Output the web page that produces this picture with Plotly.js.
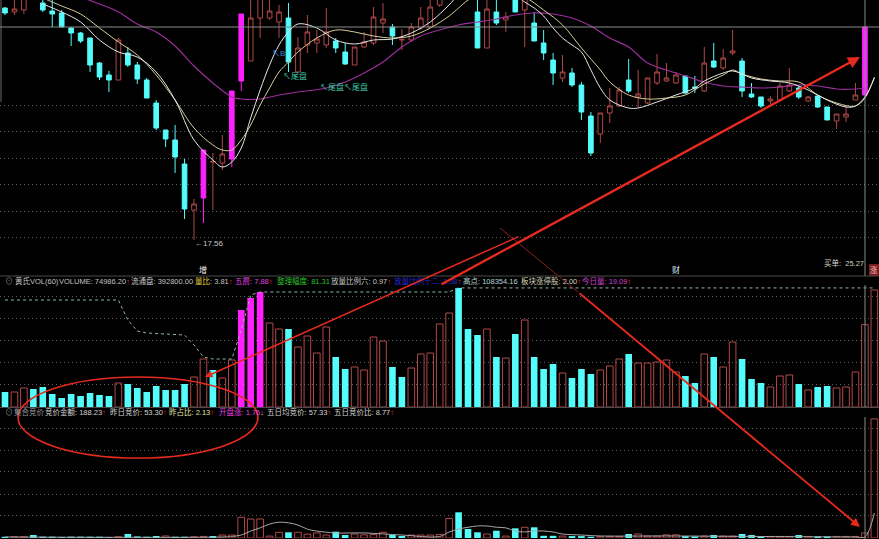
<!DOCTYPE html>
<html><head><meta charset="utf-8">
<script src="https://cdn.plot.ly/plotly-3.0.1.min.js"></script>
<style>html,body{margin:0;padding:0;background:#000;}#chart{width:879px;height:539px;}</style>
</head><body><div id="chart"></div>
<script>
// ---------------- DATA ----------------
const open = [26.84,26.68,26.76,27.64,27.04,26.72,26.64,26.04,25.84,25.64,
24.64,24.16,23.96,25.04,24.56,23.96,23.04,21.96,21.56,20.60,
18.76,19.24,20.68,20.64,20.80,23.92,24.72,26.44,26.44,26.28,
26.44,24.28,25.36,25.44,25.36,25.52,25.08,24.56,25.28,25.44,
26.24,26.08,25.56,25.56,26.04,26.08,26.96,27.36,27.96,27.88,
26.68,25.24,26.68,26.36,27.36,26.76,26.24,25.44,24.76,24.04,
24.24,23.76,22.52,21.80,22.64,22.92,23.96,23.28,23.04,23.84,
23.92,23.84,24.12,23.68,23.52,24.72,24.44,25.04,24.72,23.40,
23.28,23.12,23.16,23.52,23.64,23.12,23.32,22.88,22.32,22.48,
23.16,23.36];
const high = [26.88,27.16,27.56,27.96,27.24,27.16,26.76,26.08,25.88,25.64,
24.68,24.32,25.64,25.28,24.68,24.04,23.16,21.96,22.16,20.80,
19.20,21.16,21.04,21.76,23.52,26.60,27.36,27.56,27.36,26.96,
27.04,25.68,26.56,25.96,26.84,25.64,25.44,25.28,25.88,26.88,
27.04,26.20,26.00,26.24,26.88,27.16,27.56,27.96,28.16,28.04,
27.36,27.36,27.16,26.68,27.56,27.48,26.68,25.96,25.04,24.96,
24.44,23.88,22.68,22.64,23.64,23.68,24.80,24.36,24.04,25.00,
24.64,24.28,24.12,24.12,25.28,25.44,25.20,25.96,24.84,23.84,
23.28,23.32,23.84,24.44,23.72,23.32,23.32,22.88,22.60,22.92,
23.84,26.08];
const low = [26.56,26.56,26.60,27.24,26.68,26.08,26.08,25.32,25.44,24.28,
23.96,23.48,23.96,24.48,23.80,23.24,21.96,21.28,20.24,18.40,
17.56,18.24,18.76,20.36,20.48,23.52,24.72,25.64,26.36,25.64,
24.28,24.24,25.04,25.04,25.24,25.04,24.56,24.56,25.24,25.36,
25.84,25.36,25.16,25.48,25.96,26.04,26.88,27.28,27.48,27.32,
25.24,25.24,26.16,25.88,26.68,25.28,25.52,24.76,23.76,23.88,
23.68,22.36,20.92,21.44,22.24,22.88,23.44,22.88,23.00,23.76,
23.88,23.80,23.40,23.44,23.48,24.44,24.36,24.96,23.28,23.24,
22.84,23.00,23.16,23.48,23.20,23.08,22.84,22.36,22.00,22.28,
23.16,23.36];
const close = [26.64,26.80,27.36,27.48,26.76,26.60,26.08,25.84,25.52,24.56,
24.08,23.96,25.56,24.56,24.00,23.24,22.04,21.60,20.88,18.80,
19.00,21.16,20.70,21.00,23.52,26.60,26.44,27.36,26.72,26.68,
24.68,25.24,25.88,25.60,25.88,25.24,24.60,25.28,25.48,26.48,
26.40,25.72,25.58,26.08,26.44,26.88,27.36,27.76,27.64,27.48,
25.24,26.80,26.24,26.48,26.68,27.28,25.52,25.04,24.24,24.28,
23.76,22.68,21.04,22.64,22.92,23.56,23.52,23.40,24.04,24.28,
24.04,24.16,23.44,23.64,24.64,24.48,24.84,25.12,23.52,23.28,
22.92,23.20,23.72,23.76,23.28,23.28,22.88,22.36,22.60,22.60,
23.36,26.08];
const limitUp = [21,24,25,91];

const ma5Idx = [4,6,8,10,12,14,16,18,20,22,23,24,25,26,27,28,29,30,31,33,35,37,39,41,43,45,47,48,50,52,54,55,56,57,58,59,60,61,62,63,64,66,67,69,71,73,74,76,77,78,79,81,83,85,87,89,90,91,92];
const ma5Val = [27.00,26.68,26.28,25.56,25.08,24.88,24.28,23.16,21.56,20.76,20.48,20.68,21.24,22.44,23.56,24.56,25.36,25.88,26.20,26.04,25.56,25.40,25.56,25.60,25.84,26.28,26.96,27.36,27.76,27.76,27.36,27.08,26.84,26.52,26.04,25.64,25.36,25.08,24.36,23.64,23.16,22.84,22.84,23.08,23.36,23.64,23.92,24.24,24.32,24.20,24.04,23.92,23.84,23.56,23.16,22.88,22.92,23.28,24.04];
const ma10Idx = [4,6,8,10,12,14,16,18,20,22,23,24,25,26,27,28,29,30,31,33,35,37,39,41,43,45,47,48,49,51,53,55,57,59,61,63,64,66,68,70,72,74,76,77,78,80,82,84,86,88,90,91,92];
const ma10Val = [27.24,26.92,26.60,26.04,25.48,24.96,24.16,23.16,22.04,21.36,21.16,21.16,21.56,22.16,22.96,23.64,24.28,24.68,25.08,25.64,25.96,25.88,25.72,25.64,25.72,26.04,26.52,26.84,27.16,27.56,27.56,27.28,26.76,26.16,25.24,24.36,23.88,23.36,23.20,23.24,23.36,23.80,24.16,24.36,24.20,24.00,23.92,23.88,23.36,23.04,22.92,23.24,24.08];
const maLongIdx = [8,10,12,14,16,18,20,22,24,25,27,29,31,34,36,38,40,42,44,46,48,50,52,54,56,58,60,62,64,66,68,70,72,74,76,78,80,82,84,86,88,90,91];
const maLongVal = [27.28,27.00,26.68,26.20,25.88,25.32,24.52,23.84,23.28,23.20,23.20,23.36,23.48,23.64,23.88,24.24,24.68,25.28,25.72,25.96,26.16,26.28,26.40,26.56,26.64,26.60,26.44,26.12,25.64,25.28,24.64,24.36,24.12,23.88,23.72,23.68,23.64,23.68,23.76,23.72,23.60,23.60,23.64];

const volume = [13650,13650,17290,16380,18200,11830,8190,11830,10010,12740,
10920,10010,21840,20930,17290,13650,19110,15470,15470,20930,
27300,43680,33670,26390,42770,88270,99190,104650,76440,70980,
70980,54600,64610,49140,72800,45500,34580,36400,33670,63700,
60060,36400,27300,35490,48230,49140,75530,85540,108354.16,70980,
65520,70980,45500,44590,66430,79170,45500,34580,39130,30940,
26390,34580,30030,33670,37310,43680,48230,40040,40040,40950,
42770,31850,28210,21840,48230,45500,36400,59150,43680,25480,
21840,18200,28210,29120,20930,15470,18200,19110,17290,18200,
31850,74986.20,106470];
const volType = ['c','r','r','c','c','c','c','c','c','c',
'c','c','r','c','c','c','c','c','c','c',
'r','r','c','r','r','m','m','m','r','r',
'c','r','r','r','r','c','c','r','r','r',
'r','c','c','r','r','r','r','r','c','c',
'c','r','c','r','c','r','c','c','c','r',
'c','c','c','r','r','r','c','r','r','r',
'r','r','c','c','r','c','r','r','c','c',
'c','r','r','r','c','r','c','c','r','r',
'r','r','r'];
const volHighIdx = [0,12,13,14,15,19,20,21,22,24,25,26,27,47,48,92];
const volHighVal = [97370,97370,79170,69160,67340,65520,56420,45500,43680,43680,70070,101920,104650,104650,108354.16,108354.16];

const auction = [2,2,2,4.7,2,2,1.5,2,2,2,
2,1.5,2,6.3,2.5,2,3.2,3.2,2,2,
2,2.5,3.2,4.7,4.7,32.7,30,30,3,9,
9,9,6,8,4.7,10,4.7,6.3,5,5.5,
9,4.7,3.2,4.7,4.7,4.7,5.5,31,40.6,14.2,
9,6.3,11.5,3,15.3,16.9,16.9,3.5,3.5,3,
3,3,2,2,2.5,2.5,6.3,6.3,3,3,
5,5,3,2.5,3,4.7,3,3,6.3,4.7,
2.5,2.5,2.5,2.5,4.7,2.5,2.5,2.5,2.5,2.5,
2.5,8,188.23];
const auctionType = ['c','r','r','c','c','c','c','c','c','c',
'c','c','r','c','c','c','c','r','c','c',
'r','r','c','r','r','r','r','r','r','r',
'c','r','r','r','r','c','c','r','r','r',
'r','c','c','r','r','r','r','r','c','c',
'c','r','c','r','c','r','c','c','c','r',
'c','c','c','r','r','r','c','r','r','r',
'r','r','c','c','r','c','r','r','c','c',
'c','r','r','r','c','r','c','c','r','r',
'r','r','r'];
const auctionLineIdx = [0,23,24,25,26,27,28,29,30,31,32,33,35,38,42,46,47,48,49,50,51,52,53,54,55,56,57,58,59,61,63,70,80,90,91,92];
const auctionLineVal = [1.6,1.6,2.5,4.7,11,16,22,25,24,20.5,14,11,8,8,4.7,2.4,9.5,14,17,19,19,17,16,11,9.5,11,11,9.5,6.3,4.7,3.2,3.2,2.4,1.6,1.6,39.5];

// ---------------- DRAWING ----------------
const W=879,H=539;
const px=x=>x/W, py=y=>1-y/H;
const FONT='Liberation Sans, Noto Sans CJK SC, sans-serif';
const RED='#b04848', CYAN='#54fcfc', MAG='#ff20ff', ARROW='#e62a1e';

const days = open.map((_,i)=>i);
function pick(cond){
  const r={x:[],open:[],high:[],low:[],close:[]};
  days.forEach(i=>{ if(cond(i)){ r.x.push(i); r.open.push(open[i]); r.high.push(high[i]); r.low.push(low[i]); r.close.push(close[i]); } });
  return r;
}
const isLim = i=>limitUp.includes(i);
const upD = pick(i=>!isLim(i)&&close[i]>=open[i]);
const dnD = pick(i=>!isLim(i)&&close[i]<open[i]);
const limD = pick(isLim);
function candle(d,lc,fill){
  return {type:'candlestick',x:d.x,open:d.open,high:d.high,low:d.low,close:d.close,xaxis:'x',yaxis:'y',
    hoverinfo:'skip',showlegend:false,whiskerwidth:0,
    increasing:{line:{color:lc,width:1},fillcolor:fill},decreasing:{line:{color:lc,width:1},fillcolor:fill}};
}
function barsOf(vals,types,t){const x=[],y=[];vals.forEach((v,i)=>{if(types[i]===t){x.push(i);y.push(v);}});return {x,y};}
function barTrace(d,ax,fill,lc,lw){return {type:'bar',x:d.x,y:d.y,yaxis:ax,width:0.7,hoverinfo:'skip',marker:{color:fill,line:{color:lc,width:lw}}};}

const traces = [
  candle(upD,RED,'#000000'),
  candle(dnD,CYAN,CYAN),
  candle(limD,MAG,MAG),
  {type:'scatter',mode:'lines',x:maLongIdx,y:maLongVal,yaxis:'y',line:{color:'#9a2e9a',width:1.2,shape:'spline'},hoverinfo:'skip'},
  {type:'scatter',mode:'lines',x:ma10Idx,y:ma10Val,yaxis:'y',line:{color:'#d6cc98',width:1,shape:'spline'},hoverinfo:'skip'},
  {type:'scatter',mode:'lines',x:ma5Idx,y:ma5Val,yaxis:'y',line:{color:'#e8e8e8',width:1,shape:'spline'},hoverinfo:'skip'},
  barTrace(barsOf(volume,volType,'c'),'y2',CYAN,CYAN,0),
  barTrace(barsOf(volume,volType,'r'),'y2','rgba(0,0,0,0)',RED,1),
  barTrace(barsOf(volume,volType,'m'),'y2',MAG,MAG,0),
  {type:'scatter',mode:'lines',x:volHighIdx,y:volHighVal,yaxis:'y2',line:{color:'#8fb8a6',width:1,dash:'dot'},hoverinfo:'skip'},
  barTrace(barsOf(auction,auctionType,'c'),'y3',CYAN,CYAN,0),
  barTrace(barsOf(auction,auctionType,'r'),'y3','rgba(0,0,0,0)',RED,1),
  {type:'scatter',mode:'lines',x:auctionLineIdx,y:auctionLineVal,yaxis:'y3',line:{color:'#a8a8a8',width:1,shape:'spline'},hoverinfo:'skip'}
];

const baseY = {showticklabels:false,ticks:'',zeroline:false,showline:false,fixedrange:true,gridcolor:'#5e5e5e',griddash:'1px,3px',gridwidth:1};

function txt(x,y,text,color,size,anchor){
  return {xref:'paper',yref:'paper',x:px(x),y:py(y),xanchor:anchor||'left',yanchor:'middle',showarrow:false,
    text:text,font:{family:FONT,size:size||7.5,color:color}};
}
const UP='<span style="color:#f03030">↑</span>';
function arrow(hx,hy,tx,ty,w){
  return {xref:'paper',yref:'paper',x:px(hx),y:py(hy),ax:tx-hx,ay:ty-hy,axref:'pixel',ayref:'pixel',
    showarrow:true,arrowhead:2,arrowsize:1,arrowwidth:w,arrowcolor:ARROW,text:''};
}

const annotations = [
  // price pane
  txt(193,243,'←17.56','#c8c8c8',8),
  txt(270,54,'↖B','#3a86d0',8),
  txt(281,76,'↖尾盘','#3cc0a0',8),
  txt(318,87,'↖尾盘↖尾盘','#3cc0a0',8),
  // label row
  txt(203,270,'增','#f0f0f0',8,'center'),
  txt(676,270,'财','#d8eef6',8,'center'),
  txt(822,263,'买单:  25.27','#d4d4c4',7.5),
  txt(874,270,'涨','#f0c0c0',7.5,'center'),
  // VOL title row
  txt(3,281,'⊙','#8c8c8c',8),
  txt(13,281,'黄氏VOL(60)','#c4c4c4'),
  txt(57,281,'VOLUME: 74986.20'+UP,'#c4c4c4'),
  txt(129,281,'流通盘: 392800.00','#c4c4c4'),
  txt(193,281,'<span style="color:#e6d040">量比</span>: 3.81'+UP,'#c4c4c4'),
  txt(233,281,'五層: 7.88'+UP,'#e040e0'),
  txt(275,281,'整理幅度: 81.31','#30c030'),
  txt(329,281,'放量比例六: 0.97'+UP,'#c4c4c4'),
  txt(392,281,'放量比例十二: 1.38'+UP,'#2a2ad0'),
  txt(461,281,'高点: 108354.16','#b4d4d4'),
  txt(519,281,'板块涨停股: 2.00'+UP,'#d4d4b8'),
  txt(580,281,'今日量: 19.09'+UP,'#d040d0'),
  // auction title row
  txt(3,412,'⊙','#8c8c8c',8),
  txt(12,412,'集合竞价','#9a9a9a'),
  txt(43,412,'竞价金额: 188.23'+UP,'#d4d4d4'),
  txt(108,412,'昨日竞价: 53.30'+UP,'#d4d4d4'),
  txt(167,412,'昨占比: 2.13'+UP,'#e4e4a8'),
  txt(217,412,'开盘涨: 1.76<span style="color:#d4d4d4">↓</span>','#e040e0'),
  txt(265,412,'五日均竞价: 57.33'+UP,'#d4d4d4'),
  txt(332,412,'五日竞价比: 8.77'+UP,'#d4d4d4'),
  // red hand-drawn arrows
  arrow(205,377,520,236,1.5),
  arrow(860,57,440,285,2.4),
  arrow(860,527,578,292,1.8)
];

function hline(y,x0,x1,color,w){return {type:'line',xref:'paper',yref:'paper',x0:px(x0),x1:px(x1),y0:py(y),y1:py(y),line:{color:color,width:w||1},layer:'above'};}
function vline(x,y0,y1,color,w){return {type:'line',xref:'paper',yref:'paper',x0:px(x),x1:px(x),y0:py(y0),y1:py(y1),line:{color:color,width:w||1},layer:'above'};}
function seg(x0,y0,x1,y1,color,w){return {type:'line',xref:'paper',yref:'paper',x0:px(x0),x1:px(x1),y0:py(y0),y1:py(y1),line:{color:color,width:w},layer:'above'};}

const shapes = [
  hline(276,0,879,'#4a4a4a'),
  hline(407.5,0,879,'#4a4a4a'),
  vline(1,0,102,'#6a6a6a'),
  hline(27,0,879,'#8a8a8a'),
  vline(865,0,276,'#8a8a8a'),
  vline(865,285,407,'#8a8a8a'),
  vline(865,417,539,'#8a8a8a'),
  {type:'rect',xref:'paper',yref:'paper',x0:px(869),x1:px(879),y0:py(276),y1:py(264),fillcolor:'#7a1c1c',line:{width:0},layer:'below'},
  seg(500,228,578,292,'#8a2222',1),
  {type:'circle',xref:'paper',yref:'paper',x0:px(18),x1:px(258),y0:py(458),y1:py(377),line:{color:ARROW,width:1.6},layer:'above'}
];

const layout = {
  width:W,height:H,margin:{l:0,r:0,t:0,b:0},paper_bgcolor:'#000',plot_bgcolor:'#000',
  showlegend:false,hovermode:false,barmode:'overlay',dragmode:false,
  xaxis:{range:[-0.529,92.49],showgrid:false,zeroline:false,showticklabels:false,ticks:'',showline:false,rangeslider:{visible:false},fixedrange:true},
  yaxis:Object.assign({},baseY,{domain:[py(268),1],range:[16.44,27.16],tickvals:[22.96,21.92,20.84,19.80,18.72,17.68]}),
  yaxis2:Object.assign({},baseY,{domain:[py(407),py(287)],range:[0,109200],anchor:'x',tickvals:[101010,80990,60970,40950,20930]}),
  yaxis3:Object.assign({},baseY,{domain:[py(538),py(418)],range:[0,189.6],anchor:'x',tickvals:[173.8,139,104.3,69.5,34.8]}),
  shapes:shapes,annotations:annotations
};
Plotly.newPlot('chart',traces,layout,{staticPlot:true,displayModeBar:false});
</script></body></html>
